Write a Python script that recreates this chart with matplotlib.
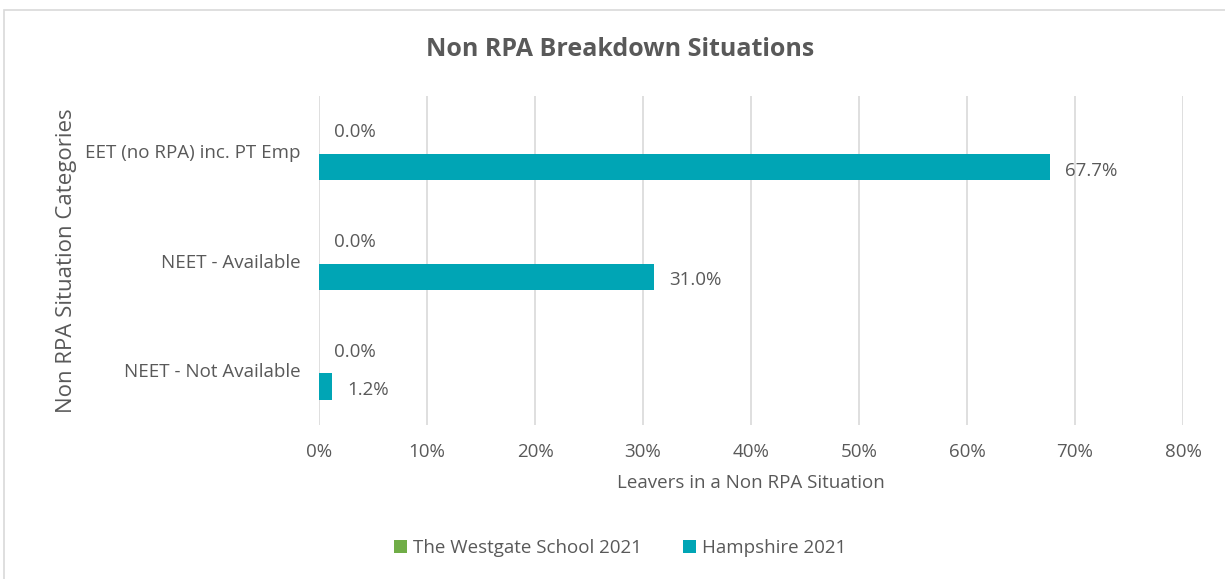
import numpy as np
import matplotlib.pyplot as plt
from matplotlib.patches import Rectangle

plt.rcParams['font.family'] = ['Open Sans', 'DejaVu Sans']

categories = ["EET (no RPA) inc. PT Emp", "NEET - Available", "NEET - Not Available"]
westgate_2021 = [0.0, 0.0, 0.0]
hampshire_2021 = [67.7, 31.0, 1.2]
x_ticks = [0, 10, 20, 30, 40, 50, 60, 70, 80]

text_col = "#595959"
green = "#70AD47"
teal = "#00A5B5"

fig = plt.figure(figsize=(12.25, 5.79), dpi=100)
ax = fig.add_axes([319 / 1225, 1 - 425 / 579, 864 / 1225, 329 / 579])

# chart border (top/left visible in the reference)
fig.patches.append(Rectangle((4 / 1225, -0.1), 1.2, 1 - 10 / 579 + 0.1,
                             transform=fig.transFigure, fill=False,
                             edgecolor="#D9D9D9", linewidth=1.2))

pos = np.arange(len(categories))[::-1].astype(float)
h = 0.24
ax.barh(pos + h / 2 - 0.03, westgate_2021, height=h, color=green, label="The Westgate School 2021")
ax.barh(pos - h / 2 - 0.03, hampshire_2021, height=h, color=teal, label="Hampshire 2021")

for p, v in zip(pos, westgate_2021):
    ax.text(v + 1.4, p + h / 2 + 0.05, f"{v:.1f}%", va="center", ha="left", fontsize=13.5, color=text_col)
for p, v in zip(pos, hampshire_2021):
    ax.text(v + 1.4, p - h / 2 - 0.06, f"{v:.1f}%", va="center", ha="left", fontsize=13.5, color=text_col)

ax.set_xlim(0, 80)
ax.set_ylim(-0.5, 2.5)
ax.set_xticks(x_ticks)
ax.set_xticklabels([f"{t}%" for t in x_ticks])
ax.set_yticks(pos)
ax.set_yticklabels(categories)
ax.tick_params(axis="both", length=0, labelsize=13.5, colors=text_col)
ax.tick_params(axis="x", pad=13)
ax.tick_params(axis="y", pad=13)
ax.grid(axis="x", color="#D9D9D9", linewidth=1.2)
ax.set_axisbelow(True)
for s in ax.spines.values():
    s.set_visible(False)

ax.set_xlabel("Leavers in a Non RPA Situation", fontsize=13.5, color=text_col, labelpad=9)
ax.set_ylabel("Non RPA Situation Categories", fontsize=16, color=text_col, labelpad=6)
fig.text(620 / 1225, 1 - 50 / 579, "Non RPA Breakdown Situations", ha="center", va="center",
         fontsize=18, fontweight="bold", color=text_col)

fig.legend(loc="center", bbox_to_anchor=(620 / 1225, 1 - 548 / 579), ncol=2, frameon=False,
           fontsize=13.5, labelcolor=text_col, handlelength=0.7, handleheight=0.7,
           handletextpad=0.3, columnspacing=2.2)

fig.savefig("out.png", dpi=100)
